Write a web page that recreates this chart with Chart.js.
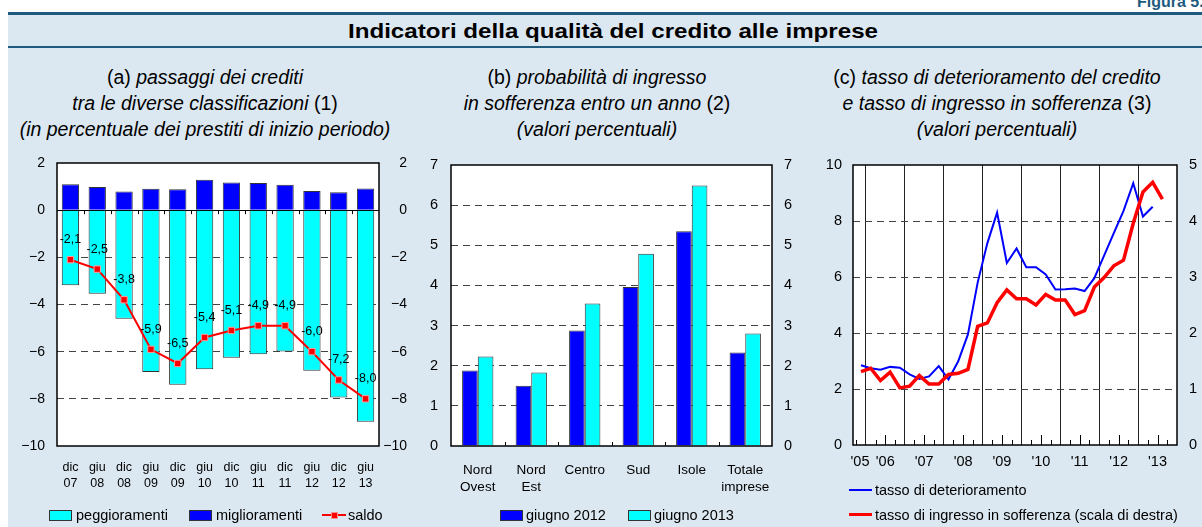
<!DOCTYPE html>
<html>
<head>
<meta charset="utf-8">
<script src="https://cdn.jsdelivr.net/npm/chart.js@4/dist/chart.umd.min.js"></script>
<style>
html,body{margin:0;padding:0;background:#fff;}
#wrap{position:relative;width:1202px;height:527px;overflow:hidden;background:#fff;font-family:"Liberation Sans",Arial,sans-serif;color:#000;}
#bg{position:absolute;left:8px;top:12px;width:1194px;height:515px;background:#dce8f1;}
.hl{position:absolute;left:8px;width:1194px;background:#1e5b7e;}
#fig{position:absolute;top:-7px;left:1137px;font-weight:bold;font-size:16px;color:#1e5b7e;white-space:nowrap;}
#title{position:absolute;left:313px;width:600px;top:18px;line-height:26px;text-align:center;font-weight:bold;font-size:21px;transform:scaleX(1.15);}
.sub{position:absolute;width:520px;text-align:center;font-size:19.5px;line-height:26px;top:64px;white-space:nowrap;}
.sub i{font-style:italic;}
canvas{position:absolute;left:0;top:0;}
.leg{position:absolute;font-size:14.5px;white-space:nowrap;line-height:18px;}
.box{position:absolute;width:21px;height:9px;border:1px solid #333;}
.ln{position:absolute;height:0;}
</style>
</head>
<body>
<div id="wrap">
  <div id="bg"></div>
  <div class="hl" style="top:12px;height:3px;"></div>
  <div class="hl" style="top:46px;height:2px;"></div>
  <div id="fig">Figura 5.</div>
  <div id="title">Indicatori della qualità del credito alle imprese</div>

  <div class="sub" style="left:-55px;">(a) <i>passaggi dei crediti</i><br><i>tra le diverse classificazioni</i> (1)<br><i>(in percentuale dei prestiti di inizio periodo)</i></div>
  <div class="sub" style="left:337px;">(b) <i>probabilità di ingresso</i><br><i>in sofferenza entro un anno</i> (2)<br><i>(valori percentuali)</i></div>
  <div class="sub" style="left:737px;">(c) <i>tasso di deterioramento del credito</i><br><i>e tasso di ingresso in sofferenza</i> (3)<br><i>(valori percentuali)</i></div>

  <canvas id="ca" width="1202" height="527"></canvas>
  <canvas id="cb" width="1202" height="527"></canvas>
  <canvas id="cc" width="1202" height="527"></canvas>

  <!-- legend a -->
  <div class="box" style="left:49px;top:510px;background:#00ffff;"></div>
  <div class="leg" style="left:76px;top:506px;">peggioramenti</div>
  <div class="box" style="left:189px;top:510px;background:#0000ff;"></div>
  <div class="leg" style="left:216px;top:506px;">miglioramenti</div>
  <div class="ln" style="left:322px;top:514px;width:24px;border-top:2px solid #ff0000;"></div>
  <div style="position:absolute;left:331px;top:512px;width:5px;height:5px;background:#ff0000;border:1px solid #ff9090;"></div>
  <div class="leg" style="left:348px;top:506px;">saldo</div>

  <!-- legend b -->
  <div class="box" style="left:500px;top:510px;background:#0000ff;"></div>
  <div class="leg" style="left:526px;top:506px;">giugno 2012</div>
  <div class="box" style="left:628px;top:510px;background:#00ffff;"></div>
  <div class="leg" style="left:654px;top:506px;">giugno 2013</div>

  <!-- legend c -->
  <div class="ln" style="left:849px;top:489px;width:23px;border-top:2px solid #0000ff;"></div>
  <div class="leg" style="left:875px;top:481px;">tasso di deterioramento</div>
  <div class="ln" style="left:849px;top:513px;width:23px;border-top:3px solid #ff0000;"></div>
  <div class="leg" style="left:875px;top:506px;">tasso di ingresso in sofferenza (scala di destra)</div>
</div>

<script>
// ---------------- DATA ----------------
// Panel (a)
const catA = [['dic','07'],['giu','08'],['dic','08'],['giu','09'],['dic','09'],['giu','10'],['dic','10'],['giu','11'],['dic','11'],['giu','12'],['dic','12'],['giu','13']];
const peggioramenti = [-3.18,-3.54,-4.60,-6.86,-7.40,-6.75,-6.26,-6.11,-5.99,-6.81,-7.94,-8.97];
const miglioramenti = [1.10,0.98,0.79,0.91,0.89,1.29,1.17,1.15,1.08,0.81,0.76,0.92];
const saldo = [-2.1,-2.5,-3.8,-5.9,-6.5,-5.4,-5.1,-4.9,-4.9,-6.0,-7.2,-8.0];

// Panel (b)
const catB = [['Nord','Ovest'],['Nord','Est'],'Centro','Sud','Isole',['Totale','imprese']];
const giugno2012 = [1.88,1.50,2.88,3.96,5.35,2.33];
const giugno2013 = [2.23,1.83,3.55,4.79,6.49,2.80];

// Panel (c) - quarterly
const quartersDet = ['2005Q4','2006Q1','2006Q2','2006Q3','2006Q4','2007Q1','2007Q2','2007Q3','2007Q4','2008Q1','2008Q2','2008Q3','2008Q4','2009Q1','2009Q2','2009Q3','2009Q4','2010Q1','2010Q2','2010Q3','2010Q4','2011Q1','2011Q2','2011Q3','2011Q4','2012Q1','2012Q2','2012Q3','2012Q4','2013Q1','2013Q2'];
const deterioramento = [2.85,2.74,2.69,2.79,2.76,2.52,2.36,2.45,2.82,2.34,2.99,3.95,5.8,7.21,8.30,6.50,7.02,6.35,6.35,6.09,5.55,5.56,5.59,5.50,5.96,6.76,7.57,8.36,9.35,8.16,8.51];
const quartersSoff = quartersDet.concat(['2013Q3']);
const sofferenza = [1.31,1.37,1.15,1.30,1.02,1.05,1.24,1.09,1.09,1.26,1.28,1.35,2.12,2.18,2.54,2.77,2.61,2.61,2.50,2.69,2.59,2.59,2.33,2.40,2.82,2.99,3.20,3.30,3.96,4.52,4.69,4.39];
const yearLabels = ["'05","'06","'07","'08","'09","'10","'11","'12","'13"];
const yearLabelPos = [2005.85,2006.5,2007.5,2008.5,2009.5,2010.5,2011.5,2012.5,2013.5];
const yearLines = [2006,2007,2008,2009,2010,2011,2012,2013];

// ---------------- HELPERS ----------------
const FONT = '"Liberation Sans", Arial, sans-serif';
Chart.defaults.font.family = FONT;
Chart.defaults.color = '#000';
Chart.defaults.animation = false;
Chart.defaults.responsive = false;
Chart.defaults.devicePixelRatio = 1;
Chart.defaults.plugins.legend.display = false;
Chart.defaults.plugins.tooltip.enabled = false;

const qToNum = q => parseInt(q.slice(0,4),10) + (parseInt(q.slice(5),10) - 0.5) / 4;
const DASH = [7,5];
const GRIDC = '#444';

const plotFrame = {
  id: 'plotFrame',
  beforeDraw(chart) {
    const {ctx, chartArea: a} = chart;
    ctx.save(); ctx.fillStyle = '#fff';
    ctx.fillRect(a.left, a.top, a.right - a.left, a.bottom - a.top); ctx.restore();
  },
  afterDraw(chart) {
    const {ctx, chartArea: a} = chart;
    ctx.save(); ctx.strokeStyle = '#000'; ctx.lineWidth = 1.5;
    ctx.strokeRect(a.left, a.top, a.right - a.left, a.bottom - a.top); ctx.restore();
  }
};

function fixW(w){ return s => { s.width = w; }; }
function fixH(h){ return s => { s.height = h; }; }

// ---------------- PANEL A ----------------
const minusFmt = v => v < 0 ? '\u2212' + Math.abs(v) : String(v);
const labelsA = {
  id: 'labelsA',
  afterDatasetsDraw(chart) {
    const {ctx} = chart;
    const xs = chart.scales.x, ys = chart.scales.y;
    const y0 = ys.getPixelForValue(0);
    ctx.save();
    ctx.strokeStyle = '#000'; ctx.lineWidth = 1;
    for (let i = 1; i < catA.length; i++) {
      const px = Math.round((xs.getPixelForValue(i-1) + xs.getPixelForValue(i)) / 2) + 0.5;
      ctx.beginPath(); ctx.moveTo(px, y0); ctx.lineTo(px, y0 + 4); ctx.stroke();
    }
    const meta = chart.getDatasetMeta(2);
    ctx.fillStyle = '#000'; ctx.font = '12.5px ' + FONT;
    ctx.textAlign = 'center'; ctx.textBaseline = 'middle';
    meta.data.forEach((pt, i) => {
      ctx.fillText(saldo[i].toFixed(1).replace('.', ','), pt.x, pt.y - 20);
    });
    ctx.restore();
  }
};

new Chart(document.getElementById('ca'), {
  data: {
    labels: catA,
    datasets: [
      {type:'bar', label:'peggioramenti', data: peggioramenti, backgroundColor:'#00ffff', borderColor:'#333', borderWidth:1, categoryPercentage:0.645, barPercentage:1, order:2, yAxisID:'y'},
      {type:'bar', label:'miglioramenti', data: miglioramenti, backgroundColor:'#0000ff', borderColor:'#333', borderWidth:1, categoryPercentage:0.645, barPercentage:1, order:2, yAxisID:'y'},
      {type:'line', label:'saldo', data: saldo, borderColor:'#ff0000', borderWidth:2, pointStyle:'rect', pointRadius:4.5, pointBackgroundColor:'#ff0000', pointBorderColor:'#ff9a9a', pointBorderWidth:1, order:0, yAxisID:'y'}
    ]
  },
  options: {
    layout: {padding: {left: 8, right: 795, top: 163, bottom: 26}},
    scales: {
      x: {stacked: true, grid: {display: false}, border: {display: false},
          ticks: {font: {size: 12.5, lineHeight: 1.3}, padding: 5, maxRotation: 0, autoSkip: false},
          afterFit: fixH(55)},
      y: {position: 'left', min: -10, max: 2, stacked: false,
          ticks: {stepSize: 2, font: {size: 14}, padding: 12, callback: minusFmt},
          grid: {drawTicks: false, lineWidth: 1,
                 color: c => (c.tick && c.tick.value === 0) ? '#000' : ((c.tick && (c.tick.value === 2 || c.tick.value === -10)) ? 'rgba(0,0,0,0)' : GRIDC)},
          border: {display: false, dash: c => (c.tick && c.tick.value !== 0) ? DASH : []},
          afterFit: fixW(49)},
      y2: {position: 'right', min: -10, max: 2,
          ticks: {stepSize: 2, font: {size: 14}, padding: 12, crossAlign: 'far', callback: minusFmt},
          grid: {drawOnChartArea: false, drawTicks: false}, border: {display: false},
          afterFit: fixW(28)}
    }
  },
  plugins: [plotFrame, labelsA]
});

// ---------------- PANEL B ----------------
const ticksB = {
  id: 'ticksB',
  afterDatasetsDraw(chart) {
    const {ctx, chartArea: a} = chart;
    const xs = chart.scales.x;
    ctx.save(); ctx.strokeStyle = '#000'; ctx.lineWidth = 1;
    for (let i = 1; i < catB.length; i++) {
      const px = Math.round((xs.getPixelForValue(i-1) + xs.getPixelForValue(i)) / 2) + 0.5;
      ctx.beginPath(); ctx.moveTo(px, a.bottom); ctx.lineTo(px, a.bottom - 4); ctx.stroke();
    }
    ctx.restore();
  }
};
new Chart(document.getElementById('cb'), {
  type: 'bar',
  data: {
    labels: catB,
    datasets: [
      {label:'giugno 2012', data: giugno2012, backgroundColor:'#0000ff', borderColor:'#333', borderWidth:1, categoryPercentage:0.585, barPercentage:1},
      {label:'giugno 2013', data: giugno2013, backgroundColor:'#00ffff', borderColor:'#333', borderWidth:1, categoryPercentage:0.585, barPercentage:1}
    ]
  },
  options: {
    layout: {padding: {left: 413, right: 410, top: 165, bottom: 26}},
    scales: {
      x: {grid: {display: false}, border: {display: false},
          ticks: {font: {size: 13.5, lineHeight: 1.26}, padding: 8, maxRotation: 0, autoSkip: false},
          afterFit: fixH(55)},
      y: {position: 'left', min: 0, max: 7,
          ticks: {stepSize: 1, font: {size: 14.5}, padding: 13},
          grid: {drawTicks: false, color: c => (c.tick && (c.tick.value === 0 || c.tick.value === 7)) ? 'rgba(0,0,0,0)' : GRIDC},
          border: {display: false, dash: c => c.tick ? DASH : []},
          afterFit: fixW(38)},
      y2: {position: 'right', min: 0, max: 7,
          ticks: {stepSize: 1, font: {size: 14.5}, padding: 12, crossAlign: 'far'},
          grid: {drawOnChartArea: false, drawTicks: false}, border: {display: false},
          afterFit: fixW(20)}
    }
  },
  plugins: [plotFrame, ticksB]
});

// ---------------- PANEL C ----------------
const ticksC = {
  id: 'ticksC',
  afterDatasetsDraw(chart) {
    const {ctx, chartArea: a} = chart;
    const xs = chart.scales.x;
    ctx.save(); ctx.strokeStyle = '#000'; ctx.lineWidth = 1;
    for (let y = 2005; y <= 2013; y++) {
      [0.25, 0.5, 0.75].forEach(f => {
        const v = y + f;
        if (v <= xs.min || v >= xs.max) return;
        const px = Math.round(xs.getPixelForValue(v)) + 0.5;
        const len = f === 0.5 ? 10 : 5;
        ctx.beginPath(); ctx.moveTo(px, a.bottom); ctx.lineTo(px, a.bottom - len); ctx.stroke();
      });
    }
    ctx.restore();
  }
};
const tickValsC = yearLabelPos.concat(yearLines).sort((a,b)=>a-b);
new Chart(document.getElementById('cc'), {
  type: 'line',
  data: {
    datasets: [
      {label:'tasso di deterioramento', data: quartersDet.map((q,i)=>({x: qToNum(q), y: deterioramento[i]})), borderColor:'#0000ff', borderWidth:2, pointRadius:0, yAxisID:'y', order:1},
      {label:'tasso di ingresso in sofferenza (scala di destra)', data: quartersSoff.map((q,i)=>({x: qToNum(q), y: sofferenza[i]})), borderColor:'#ff0000', borderWidth:3.5, pointRadius:0, yAxisID:'y2', order:0}
    ]
  },
  options: {
    layout: {padding: {left: 815, right: 5, top: 165, bottom: 41}},
    scales: {
      x: {type: 'linear', min: 2005.67, max: 2014.0,
          afterBuildTicks: s => { s.ticks = tickValsC.map(v => ({value: v})); },
          ticks: {font: {size: 14.5}, padding: 8, maxRotation: 0, autoSkip: false,
                  callback: v => { const k = yearLabelPos.indexOf(v); return k >= 0 ? yearLabels[k] : ''; }},
          grid: {drawTicks: false, lineWidth: 1, color: c => (c.tick && yearLines.indexOf(c.tick.value) >= 0) ? '#222' : 'rgba(0,0,0,0)'},
          border: {display: false},
          afterFit: fixH(41)},
      y: {position: 'left', min: 0, max: 10,
          ticks: {stepSize: 2, font: {size: 14.5}, padding: 11},
          grid: {drawTicks: false, color: c => (c.tick && (c.tick.value === 0 || c.tick.value === 10)) ? 'rgba(0,0,0,0)' : GRIDC},
          border: {display: false, dash: c => c.tick ? DASH : []},
          afterFit: fixW(38)},
      y2: {position: 'right', min: 0, max: 5,
          ticks: {stepSize: 1, font: {size: 14.5}, padding: 13, crossAlign: 'far'},
          grid: {drawOnChartArea: false, drawTicks: false}, border: {display: false},
          afterFit: fixW(20)}
    }
  },
  plugins: [plotFrame, ticksC]
});
</script>
</body>
</html>
